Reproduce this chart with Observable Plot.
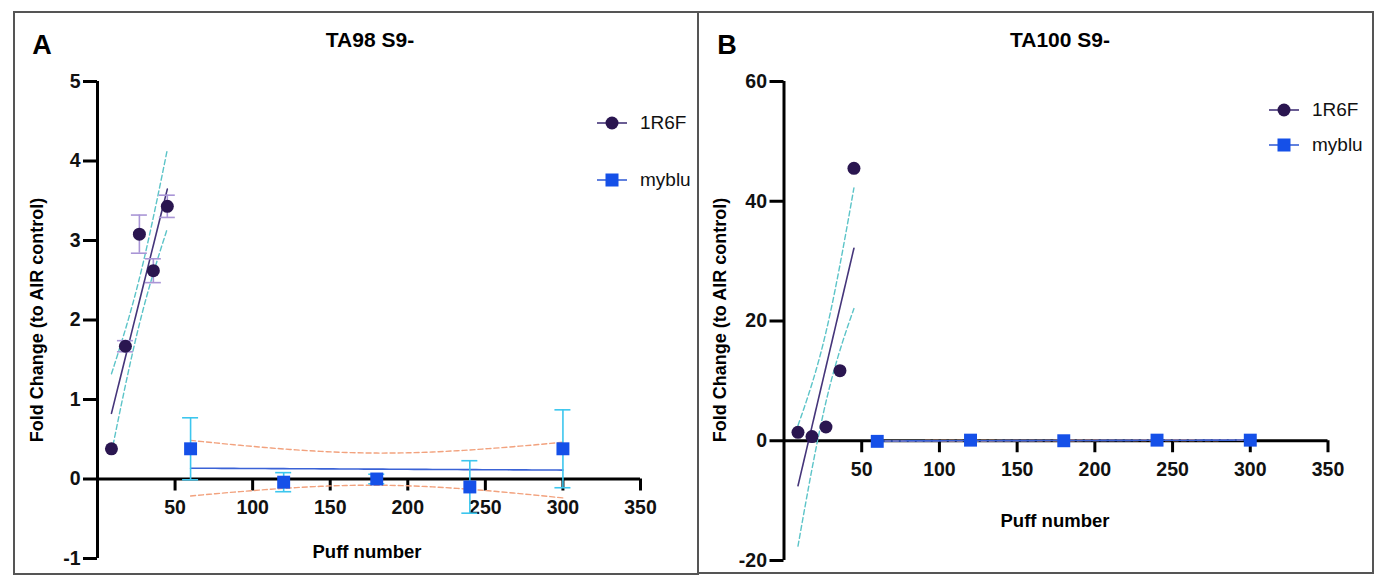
<!DOCTYPE html>
<html>
<head>
<meta charset="utf-8">
<script src="https://cdn.jsdelivr.net/npm/d3@7"></script>
<script src="https://cdn.jsdelivr.net/npm/@observablehq/plot@0.6"></script>
<style>
  html, body { margin: 0; padding: 0; background: #fff; }
  #root { position: relative; width: 1386px; height: 588px; overflow: hidden; font-family: "Liberation Sans", Arial, sans-serif; }
  .box { position: absolute; border: 2px solid #555; box-sizing: border-box; }
  .t { position: absolute; transform: translate(-50%, -50%); white-space: nowrap; color: #000; }
  .b { font-weight: bold; }
  .leg { position: absolute; display: flex; align-items: center; font-size: 19px; color: #111; }
  .plot { position: absolute; }
</style>
</head>
<body>
<div id="root"></div>
<script>
// ---------- data ----------
const puffs1R6F = [9, 18, 27, 36, 45];
const puffsMyblu = [60, 120, 180, 240, 300];

const ta98_1R6F = [0.38, 1.67, 3.08, 2.62, 3.43];
const ta98_1R6F_sd = [0, 0.07, 0.24, 0.15, 0.14];
const ta98_myblu = [0.38, -0.04, 0.0, -0.10, 0.38];
const ta98_myblu_sd = [0.39, 0.12, 0.06, 0.33, 0.49];

const ta100_1R6F = [1.4, 0.7, 2.3, 11.7, 45.5];
const ta100_1R6F_sd = [0, 0, 0, 0, 0];
const ta100_myblu = [-0.1, 0.1, 0.0, 0.1, 0.1];
const ta100_myblu_sd = [0, 0, 0, 0, 0];

const xTicks = [50, 100, 150, 200, 250, 300, 350];
const yTicksA = [-1, 0, 1, 2, 3, 4, 5];
const yTicksB = [-20, 0, 20, 40, 60];

const seriesNames = ["1R6F", "myblu"];
const replicates = 3;
const tCrit = 2.160; // t(0.975, df = 13)

// ---------- colours ----------
const C = {
  dot1: "#2a1650", line1: "#45357a", err1: "#a995d6", ci1: "#5cc4c8",
  dot2: "#1550e8", line2: "#3a62d6", err2: "#3cc6ee", ci2: "#f2a27e"
};

// ---------- helpers ----------
function rows(xs, ys, sds) { return xs.map((x, i) => ({x, y: ys[i], sd: sds[i]})); }

// linear regression with 95% confidence band, using replicate SDs
function fit(data) {
  const k = data.length, n = replicates;
  const mx = d3.mean(data, d => d.x), my = d3.mean(data, d => d.y);
  const sxx = d3.sum(data, d => (d.x - mx) ** 2);
  const slope = d3.sum(data, d => (d.x - mx) * (d.y - my)) / sxx;
  const b = my - slope * mx;
  const between = n * d3.sum(data, d => (d.y - (b + slope * d.x)) ** 2);
  const within = (n - 1) * d3.sum(data, d => d.sd ** 2);
  const N = n * k;
  const s = Math.sqrt((between + within) / (N - 2));
  const [x0, x1] = d3.extent(data, d => d.x);
  return d3.range(0, 61).map(i => {
    const x = x0 + (x1 - x0) * i / 60;
    const yhat = b + slope * x;
    const h = tCrit * s * Math.sqrt(1 / N + (x - mx) ** 2 / (n * sxx));
    return {x, y: yhat, lo: yhat - h, hi: yhat + h};
  });
}

function errMarks(data, color) {
  const e = data.filter(d => d.sd > 0);
  return [
    Plot.ruleX(e, {x: "x", y1: d => d.y - d.sd, y2: d => d.y + d.sd, stroke: color, strokeWidth: 1.6}),
    Plot.ruleY(e, {y: d => d.y + d.sd, x1: "x", x2: "x", insetLeft: -8, insetRight: -8, stroke: color, strokeWidth: 1.6}),
    Plot.ruleY(e, {y: d => d.y - d.sd, x1: "x", x2: "x", insetLeft: -8, insetRight: -8, stroke: color, strokeWidth: 1.6})
  ];
}

function panel({width, height, margins, yDomain, yTicks, s1, s2}) {
  const f1 = fit(s1), f2 = fit(s2);
  const font = {fontSize: 19.5, fontWeight: "bold", fill: "#111"};
  return Plot.plot({
    width, height,
    marginLeft: margins[0], marginRight: margins[1], marginTop: margins[2], marginBottom: margins[3],
    x: {domain: [0, 350], axis: null},
    y: {domain: yDomain, axis: null},
    style: {fontFamily: "'Liberation Sans', Arial, sans-serif", background: "transparent", overflow: "visible"},
    marks: [
      // axes
      Plot.ruleY([0], {x1: 0, x2: 350, stroke: "#000", strokeWidth: 3}),
      Plot.ruleX([0], {y1: yDomain[0], y2: yDomain[1], stroke: "#000", strokeWidth: 3}),
      Plot.ruleX(xTicks, {x: d => d, y1: 0, y2: 0, insetBottom: -12, stroke: "#000", strokeWidth: 3}),
      Plot.ruleY(yTicks, {y: d => d, x1: 0, x2: 0, insetLeft: -14, stroke: "#000", strokeWidth: 3}),
      Plot.text(xTicks, {x: d => d, y: 0, dy: 29, text: d => String(d), ...font}),
      Plot.text(yTicks, {x: 0, y: d => d, dx: -17, textAnchor: "end", text: d => String(d), ...font}),
      // confidence bands
      Plot.line(f1, {x: "x", y: "lo", stroke: C.ci1, strokeWidth: 1.4, strokeDasharray: "5,3"}),
      Plot.line(f1, {x: "x", y: "hi", stroke: C.ci1, strokeWidth: 1.4, strokeDasharray: "5,3"}),
      Plot.line(f2, {x: "x", y: "lo", stroke: C.ci2, strokeWidth: 1.4, strokeDasharray: "5,3"}),
      Plot.line(f2, {x: "x", y: "hi", stroke: C.ci2, strokeWidth: 1.4, strokeDasharray: "5,3"}),
      // regression lines
      Plot.line(f1, {x: "x", y: "y", stroke: C.line1, strokeWidth: 1.6}),
      Plot.line(f2, {x: "x", y: "y", stroke: C.line2, strokeWidth: 1.6}),
      // error bars
      ...errMarks(s1, C.err1),
      ...errMarks(s2, C.err2),
      // points
      Plot.dot(s1, {x: "x", y: "y", r: 6.5, fill: C.dot1}),
      Plot.dot(s2, {x: "x", y: "y", r: 7.3, symbol: "square", fill: C.dot2})
    ]
  });
}

// ---------- layout ----------
const root = document.getElementById("root");
function box(l, t, w, h) { const d = document.createElement("div"); d.className = "box"; Object.assign(d.style, {left: l + "px", top: t + "px", width: w + "px", height: h + "px"}); root.appendChild(d); }
function txt(s, x, y, size, bold, rot) {
  const d = document.createElement("div");
  d.className = "t" + (bold ? " b" : "");
  d.textContent = s;
  d.style.left = x + "px"; d.style.top = y + "px"; d.style.fontSize = size + "px";
  if (rot) d.style.transform = "translate(-50%, -50%) rotate(-90deg)";
  root.appendChild(d);
}
function legendItem(name, sym, lineColor, fill, x, y) {
  const d = document.createElement("div");
  d.className = "leg";
  d.style.left = x + "px"; d.style.top = (y - 12) + "px";
  const symSvg = sym === "circle"
    ? `<circle cx="15" cy="12" r="6.5" fill="${fill}"/>`
    : `<rect x="8.5" y="5.5" width="13" height="13" fill="${fill}"/>`;
  d.innerHTML = `<svg width="30" height="24" style="margin-right:13px"><line x1="0" x2="30" y1="12" y2="12" stroke="${lineColor}" stroke-width="1.6"/>${symSvg}</svg><span>${name}</span>`;
  root.appendChild(d);
}
function place(svg, l, t) { svg.classList.add("plot"); svg.style.left = l + "px"; svg.style.top = t + "px"; root.appendChild(svg); }

box(13, 11, 686, 564);
box(697, 11, 677, 563);

const pA = panel({
  width: 684, height: 562, margins: [83, 58, 69, 16],
  yDomain: [-1, 5], yTicks: yTicksA,
  s1: rows(puffs1R6F, ta98_1R6F, ta98_1R6F_sd),
  s2: rows(puffsMyblu, ta98_myblu, ta98_myblu_sd)
});
place(pA, 14, 12);

const pB = panel({
  width: 675, height: 561, margins: [85.5, 45.5, 69, 13],
  yDomain: [-20, 60], yTicks: yTicksB,
  s1: rows(puffs1R6F, ta100_1R6F, ta100_1R6F_sd),
  s2: rows(puffsMyblu, ta100_myblu, ta100_myblu_sd)
});
place(pB, 698, 12);

// titles & labels
txt("A", 42, 45, 27, true);
txt("TA98 S9-", 370, 40, 21, true);
txt("Fold Change (to AIR control)", 37, 320, 18, true, true);
txt("Puff number", 367, 552, 18.5, true);

txt("B", 727, 45, 27, true);
txt("TA100 S9-", 1060, 40, 21, true);
txt("Fold Change (to AIR control)", 720, 320, 18, true, true);
txt("Puff number", 1055, 521, 18.5, true);

// legends
legendItem(seriesNames[0], "circle", C.line1, C.dot1, 597, 123);
legendItem(seriesNames[1], "square", C.line2, C.dot2, 597, 180);
legendItem(seriesNames[0], "circle", C.line1, C.dot1, 1269, 110);
legendItem(seriesNames[1], "square", C.line2, C.dot2, 1269, 145);
</script>
</body>
</html>
